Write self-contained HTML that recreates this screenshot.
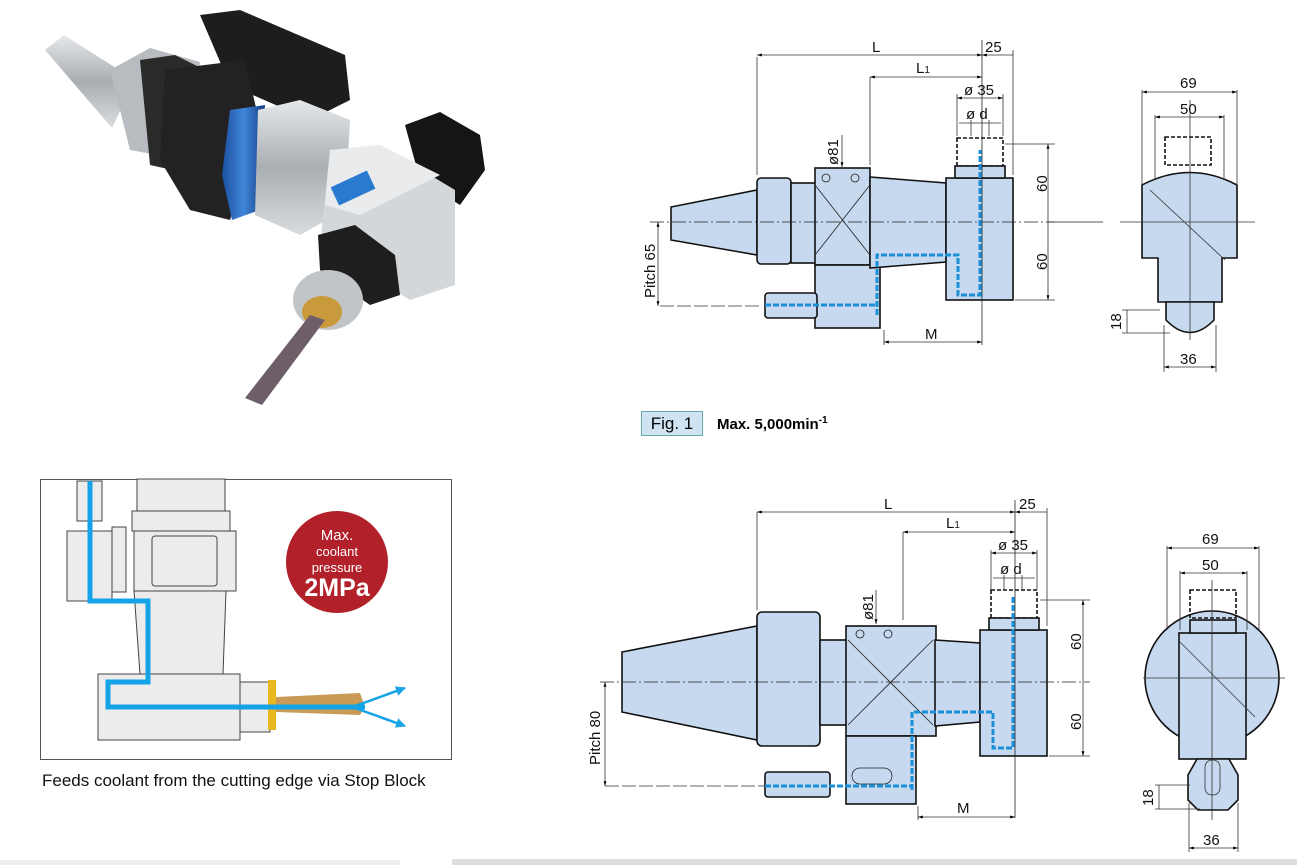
<!DOCTYPE html>
<html><head><meta charset="utf-8"><style>
html,body{margin:0;padding:0;background:#fff;}
svg{display:block;font-family:"Liberation Sans",sans-serif;}
</style></head><body>
<svg width="1297" height="865" viewBox="0 0 1297 865" xmlns="http://www.w3.org/2000/svg">
<defs>
<linearGradient id="sil" x1="0" y1="0" x2="0" y2="1"><stop offset="0" stop-color="#e6e8ea"/><stop offset="0.5" stop-color="#a9aeb3"/><stop offset="1" stop-color="#d9dcdf"/></linearGradient>
<linearGradient id="blu" x1="0" y1="0" x2="1" y2="0"><stop offset="0" stop-color="#1c4fa0"/><stop offset="0.5" stop-color="#3f86d8"/><stop offset="1" stop-color="#173f85"/></linearGradient>
<marker id="ar" viewBox="0 0 10 10" refX="10" refY="5" markerWidth="6" markerHeight="6" orient="auto-start-reverse"><path d="M0,2 L10,5 L0,8z" fill="#000"/></marker>
<marker id="ab" viewBox="0 0 10 10" refX="9" refY="5" markerWidth="4" markerHeight="4" orient="auto"><path d="M0,0 L10,5 L0,10z" fill="#1aa6e6"/></marker>
</defs>

<!-- PHOTO -->
<g>
<polygon points="45,50 64,35 135,80 112,128" fill="url(#sil)"/>
<polygon points="110,70 150,48 200,62 185,160 130,150" fill="#b8bcc0"/>
<polygon points="140,60 175,55 215,75 195,175 150,165" fill="#2a2a2a"/>
<polygon points="200,15 240,10 345,55 350,100 310,120 230,85" fill="#1d1d1d"/>
<polygon points="165,70 245,60 260,125 230,220 190,210 160,160" fill="#222"/>
<polygon points="230,110 265,105 260,210 232,220 222,175" fill="url(#blu)"/>
<polygon points="258,110 300,100 350,120 345,210 300,235 255,215" fill="url(#sil)"/>
<polygon points="405,125 440,112 480,135 485,170 460,205 420,180" fill="#151515"/>
<polygon points="330,150 380,145 455,190 455,285 410,300 320,245" fill="#d4d7da"/>
<polygon points="330,150 380,145 440,175 360,215 325,205" fill="#e9ebed"/>
<rect x="333" y="178" width="40" height="20" fill="#2a7bd0" transform="rotate(-25 353 188)"/>
<polygon points="318,235 355,225 395,255 400,295 370,305 320,270" fill="#1e1e1e"/>
<ellipse cx="328" cy="300" rx="35" ry="30" fill="#c2c5c8"/>
<ellipse cx="322" cy="312" rx="20" ry="16" fill="#c99a3b"/>
<polygon points="310,315 325,320 262,405 245,398" fill="#6e5e6a"/>
</g>

<!-- COOLANT BOX -->
<rect x="40.5" y="479.5" width="411" height="280" fill="#fff" stroke="#555"/>
<g fill="#ececec" stroke="#444" stroke-width="1">
<rect x="137" y="479" width="88" height="32"/>
<rect x="132" y="511" width="98" height="20"/>
<rect x="67" y="531" width="45" height="70"/>
<rect x="112" y="527" width="14" height="65"/>
<rect x="134" y="531" width="102" height="60"/>
<rect x="152" y="536" width="65" height="50" rx="3"/>
<polygon points="134,591 226,591 223,674 140,674"/>
<rect x="98" y="674" width="142" height="66"/>
<rect x="240" y="682" width="30" height="50"/>
</g>
<rect x="77" y="481" width="25" height="40" fill="#ececec" stroke="#444"/>
<rect x="268" y="680" width="8" height="50" fill="#e9b820"/>
<polygon points="276,697 360,693 365,707 360,715 276,712" fill="#c99a55"/>
<polyline points="90,481 90,601 148,601 148,682 108,682 108,707 365,707" fill="none" stroke="#13a3e6" stroke-width="5"/>
<line x1="355" y1="706" x2="405" y2="688" stroke="#13a3e6" stroke-width="2.5" marker-end="url(#ab)"/>
<line x1="355" y1="708" x2="405" y2="726" stroke="#13a3e6" stroke-width="2.5" marker-end="url(#ab)"/>
<circle cx="337" cy="562" r="51" fill="#b2202a"/>
<text x="337" y="540" fill="#fff" font-size="15" text-anchor="middle">Max.</text>
<text x="337" y="556" fill="#fff" font-size="13" text-anchor="middle">coolant</text>
<text x="337" y="572" fill="#fff" font-size="13" text-anchor="middle">pressure</text>
<text x="337" y="596" fill="#fff" font-size="25" font-weight="bold" text-anchor="middle">2MPa</text>
<text x="42" y="786" font-size="17" fill="#111">Feeds coolant from the cutting edge via Stop Block</text>

<!-- FIG 1 label -->
<rect x="641.5" y="411.5" width="61" height="24" fill="#cfe3f3" stroke="#6aa"/>
<text x="672" y="429" font-size="17" text-anchor="middle">Fig. 1</text>
<text x="717" y="429" font-size="15" font-weight="bold">Max. 5,000min<tspan dy="-6" font-size="10">-1</tspan></text>

<!-- TOP DRAWING -->
<g fill="#c6d9ee" stroke="#111" stroke-width="1.6">
<polygon points="671,207 757,190 757,255 671,240"/>
<rect x="757" y="178" width="34" height="86" rx="4"/>
<rect x="791" y="183" width="25" height="80"/>
<rect x="815" y="168" width="55" height="97"/>
<rect x="815" y="265" width="65" height="63"/>
<polygon points="870,177 946,183 946,262 870,268"/>
<rect x="946" y="178" width="67" height="122"/>
<rect x="765" y="293" width="52" height="25" rx="3"/>
<rect x="957" y="138" width="46" height="28" stroke-dasharray="4,2" fill="none"/>
<rect x="955" y="166" width="50" height="12"/>
</g>
<g stroke="#222" stroke-width="0.8" fill="none">
<line x1="815" y1="185" x2="870" y2="255"/><line x1="870" y1="185" x2="815" y2="255"/>
<circle cx="826" cy="178" r="4"/><circle cx="855" cy="178" r="4"/>
<line x1="650" y1="222" x2="1055" y2="222" stroke-dasharray="14,3,2,3"/>
<line x1="1047" y1="222" x2="1103" y2="222"/>
<line x1="982" y1="40" x2="982" y2="345"/>
</g>
<polyline points="877,315 877,255 958,255 958,295 980,295 980,150" fill="none" stroke="#1a8fd8" stroke-width="3" stroke-dasharray="6,2"/>
<line x1="765" y1="305" x2="877" y2="305" stroke="#1a8fd8" stroke-width="3" stroke-dasharray="6,2"/>
<!-- dims top -->
<g stroke="#333" stroke-width="0.8" fill="none">
<line x1="757" y1="57" x2="757" y2="175"/><line x1="870" y1="77" x2="870" y2="165"/>
<line x1="1013" y1="50" x2="1013" y2="175"/>
<line x1="757" y1="55" x2="982" y2="55" marker-start="url(#ar)" marker-end="url(#ar)"/>
<line x1="982" y1="55" x2="1013" y2="55" marker-start="url(#ar)"/>
<line x1="870" y1="77" x2="982" y2="77" marker-start="url(#ar)" marker-end="url(#ar)"/>
<line x1="957" y1="98" x2="1003" y2="98" marker-start="url(#ar)" marker-end="url(#ar)"/>
<line x1="957" y1="94" x2="957" y2="136"/><line x1="1003" y1="94" x2="1003" y2="136"/>
<line x1="959" y1="123" x2="1001" y2="123"/>
<line x1="971" y1="120" x2="971" y2="136"/><line x1="989" y1="120" x2="989" y2="136"/>
<line x1="1005" y1="144" x2="1055" y2="144"/><line x1="1015" y1="300" x2="1055" y2="300"/>
<line x1="1048" y1="144" x2="1048" y2="300" marker-start="url(#ar)" marker-end="url(#ar)"/>
<line x1="884" y1="330" x2="884" y2="345"/>
<line x1="884" y1="342" x2="982" y2="342" marker-start="url(#ar)" marker-end="url(#ar)"/>
<line x1="660" y1="306" x2="760" y2="306" stroke-dasharray="14,3"/>
<line x1="658" y1="222" x2="658" y2="306" marker-start="url(#ar)" marker-end="url(#ar)"/>
<line x1="842" y1="135" x2="842" y2="167" marker-end="url(#ar)"/>
</g>
<g font-size="15" fill="#111">
<text x="872" y="52">L</text><text x="916" y="73">L<tspan font-size="10">1</tspan></text>
<text x="985" y="52">25</text><text x="964" y="95">ø 35</text><text x="966" y="119">ø d</text>
<text x="925" y="339">M</text>
<text transform="translate(1047,192) rotate(-90)">60</text>
<text transform="translate(1047,270) rotate(-90)">60</text>
<text transform="translate(655,298) rotate(-90)">Pitch 65</text>
<text transform="translate(838,165) rotate(-90)">ø81</text>
</g>

<!-- TOP SIDE VIEW -->
<g fill="#c6d9ee" stroke="#111" stroke-width="1.6">
<path d="M1142,185 L1142,258 L1158,258 L1158,302 L1222,302 L1222,258 L1237,258 L1237,185 Q1190,160 1142,185z"/>
<rect x="1165" y="137" width="46" height="28" stroke-dasharray="4,2" fill="none"/>
<path d="M1166,302 L1166,320 Q1190,345 1214,320 L1214,302z"/>
</g>
<g stroke="#333" stroke-width="0.8" fill="none">
<line x1="1120" y1="222" x2="1255" y2="222"/><line x1="1190" y1="100" x2="1190" y2="340"/>
<line x1="1142" y1="92" x2="1237" y2="92" marker-start="url(#ar)" marker-end="url(#ar)"/>
<line x1="1142" y1="90" x2="1142" y2="185"/><line x1="1237" y1="90" x2="1237" y2="185"/>
<line x1="1155" y1="117" x2="1224" y2="117" marker-start="url(#ar)" marker-end="url(#ar)"/>
<line x1="1155" y1="115" x2="1155" y2="180"/><line x1="1224" y1="115" x2="1224" y2="180"/>
<line x1="1164" y1="367" x2="1216" y2="367" marker-start="url(#ar)" marker-end="url(#ar)"/>
<line x1="1164" y1="325" x2="1164" y2="372"/><line x1="1216" y1="325" x2="1216" y2="372"/>
<line x1="1122" y1="310" x2="1160" y2="310"/><line x1="1122" y1="333" x2="1170" y2="333"/>
<line x1="1127" y1="310" x2="1127" y2="333"/>
<line x1="1150" y1="190" x2="1225" y2="260"/>
</g>
<g font-size="15" fill="#111">
<text x="1180" y="88">69</text><text x="1180" y="114">50</text><text x="1180" y="364">36</text>
<text transform="translate(1121,330) rotate(-90)">18</text>
</g>

<!-- BOTTOM DRAWING -->
<g fill="#c6d9ee" stroke="#111" stroke-width="1.6">
<polygon points="622,652 757,626 757,740 622,712"/>
<rect x="757" y="612" width="63" height="134" rx="5"/>
<rect x="820" y="640" width="27" height="85"/>
<rect x="846" y="626" width="90" height="110"/>
<rect x="846" y="736" width="70" height="68"/>
<polygon points="935,640 980,643 980,722 935,726"/>
<rect x="980" y="630" width="67" height="126"/>
<rect x="765" y="772" width="65" height="25" rx="3"/>
<rect x="991" y="590" width="46" height="28" stroke-dasharray="4,2" fill="none"/>
<rect x="989" y="618" width="50" height="12"/>
</g>
<g stroke="#222" stroke-width="0.8" fill="none">
<line x1="848" y1="640" x2="933" y2="725"/><line x1="933" y1="640" x2="848" y2="725"/>
<circle cx="860" cy="634" r="4"/><circle cx="888" cy="634" r="4"/>
<rect x="852" y="768" width="40" height="16" rx="8"/>
<line x1="600" y1="682" x2="1090" y2="682" stroke-dasharray="14,3,2,3"/>
<line x1="1015" y1="500" x2="1015" y2="818"/>
</g>
<polyline points="912,790 912,712 993,712 993,748 1013,748 1013,595" fill="none" stroke="#1a8fd8" stroke-width="3" stroke-dasharray="6,2"/>
<line x1="765" y1="786" x2="912" y2="786" stroke="#1a8fd8" stroke-width="3" stroke-dasharray="6,2"/>
<g stroke="#333" stroke-width="0.8" fill="none">
<line x1="757" y1="512" x2="757" y2="610"/><line x1="903" y1="532" x2="903" y2="620"/>
<line x1="1047" y1="508" x2="1047" y2="626"/>
<line x1="757" y1="512" x2="1015" y2="512" marker-start="url(#ar)" marker-end="url(#ar)"/>
<line x1="1015" y1="512" x2="1047" y2="512" marker-start="url(#ar)"/>
<line x1="903" y1="532" x2="1015" y2="532" marker-start="url(#ar)" marker-end="url(#ar)"/>
<line x1="991" y1="553" x2="1037" y2="553" marker-start="url(#ar)" marker-end="url(#ar)"/>
<line x1="991" y1="550" x2="991" y2="590"/><line x1="1037" y1="550" x2="1037" y2="590"/>
<line x1="993" y1="578" x2="1035" y2="578"/>
<line x1="1004" y1="575" x2="1004" y2="590"/><line x1="1022" y1="575" x2="1022" y2="590"/>
<line x1="1040" y1="600" x2="1090" y2="600"/><line x1="1049" y1="756" x2="1090" y2="756"/>
<line x1="1083" y1="600" x2="1083" y2="756" marker-start="url(#ar)" marker-end="url(#ar)"/>
<line x1="918" y1="806" x2="918" y2="820"/>
<line x1="918" y1="817" x2="1015" y2="817" marker-start="url(#ar)" marker-end="url(#ar)"/>
<line x1="605" y1="786" x2="765" y2="786" stroke-dasharray="14,3"/>
<line x1="605" y1="682" x2="605" y2="786" marker-start="url(#ar)" marker-end="url(#ar)"/>
<line x1="876" y1="590" x2="876" y2="624" marker-end="url(#ar)"/>
</g>
<g font-size="15" fill="#111">
<text x="884" y="509">L</text><text x="946" y="528">L<tspan font-size="10">1</tspan></text>
<text x="1019" y="509">25</text><text x="998" y="550">ø 35</text><text x="1000" y="574">ø d</text>
<text x="957" y="813">M</text>
<text transform="translate(1081,650) rotate(-90)">60</text>
<text transform="translate(1081,730) rotate(-90)">60</text>
<text transform="translate(600,765) rotate(-90)">Pitch 80</text>
<text transform="translate(873,620) rotate(-90)">ø81</text>
</g>

<!-- BOTTOM SIDE VIEW -->
<g fill="#c6d9ee" stroke="#111" stroke-width="1.6">
<circle cx="1212" cy="678" r="67"/>
<rect x="1179" y="633" width="67" height="126"/>
<rect x="1190" y="590" width="46" height="28" stroke-dasharray="4,2" fill="none"/>
<rect x="1190" y="620" width="46" height="13"/>
<polygon points="1197,759 1229,759 1238,775 1238,800 1228,810 1198,810 1188,800 1188,775"/>
</g>
<g stroke="#333" stroke-width="0.8" fill="none">
<line x1="1143" y1="678" x2="1285" y2="678"/><line x1="1212" y1="580" x2="1212" y2="820"/>
<line x1="1178" y1="640" x2="1255" y2="717"/>
<line x1="1167" y1="548" x2="1259" y2="548" marker-start="url(#ar)" marker-end="url(#ar)"/>
<line x1="1167" y1="546" x2="1167" y2="630"/><line x1="1259" y1="546" x2="1259" y2="630"/>
<line x1="1180" y1="573" x2="1247" y2="573" marker-start="url(#ar)" marker-end="url(#ar)"/>
<line x1="1180" y1="571" x2="1180" y2="630"/><line x1="1247" y1="571" x2="1247" y2="630"/>
<line x1="1189" y1="848" x2="1238" y2="848" marker-start="url(#ar)" marker-end="url(#ar)"/>
<line x1="1189" y1="803" x2="1189" y2="852"/><line x1="1238" y1="803" x2="1238" y2="852"/>
<line x1="1155" y1="785" x2="1190" y2="785"/><line x1="1155" y1="809" x2="1200" y2="809"/>
<line x1="1159" y1="785" x2="1159" y2="809"/>
<rect x="1205" y="760" width="15" height="35" rx="7"/>
</g>
<g font-size="15" fill="#111">
<text x="1202" y="544">69</text><text x="1202" y="570">50</text><text x="1203" y="845">36</text>
<text transform="translate(1153,806) rotate(-90)">18</text>
</g>

<rect x="0" y="860" width="400" height="5" fill="#eee"/>
<rect x="452" y="859" width="845" height="6" fill="#ddd"/>
</svg>
</body></html>
